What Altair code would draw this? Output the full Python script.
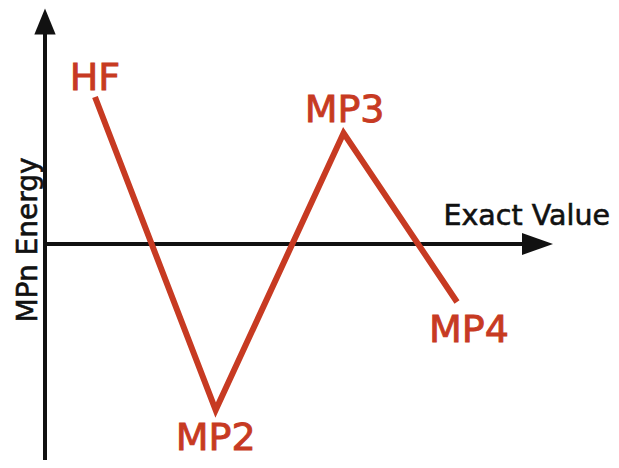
import altair as alt
import pandas as pd

# Data
methods = ["HF", "MP2", "MP3", "MP4"]
step = [1.0, 2.0, 3.06, 4.0]          # position along the (unlabelled) x direction
energy = [14.7, -16.6, 11.1, -5.8]    # MPn energy relative to the exact value (arb. units)

df = pd.DataFrame({"method": methods, "step": step, "energy": energy})

RED = "#c73a22"
BLACK = "#111111"
FONT = "DejaVu Sans"
W, H = 603, 452

xs = alt.Scale(domain=[0.279, 5.2762], nice=False, zero=False)
ys = alt.Scale(domain=[-21.6, 23.6], nice=False, zero=False)

X = alt.X("step:Q", scale=xs, axis=None)
Y = alt.Y("energy:Q", scale=ys, axis=None)

base = alt.Chart(df)

line = base.mark_line(color=RED, strokeWidth=6, strokeJoin="miter",
                      strokeCap="butt", strokeMiterLimit=20).encode(x=X, y=Y)

def label(name, dx, dy):
    return base.transform_filter(alt.datum.method == name).mark_text(
        font=FONT, fontSize=38, color=RED, stroke=RED, strokeWidth=0.9,
        align="center", baseline="alphabetic", dx=dx, dy=dy).encode(
        x=X, y=Y, text="method:N")

labels = (label("HF", 0, -7) + label("MP2", 0, 40) +
          label("MP3", 1, -11) + label("MP4", 12, 40))

one = alt.Chart(pd.DataFrame({"a": [0]}))

vrule = one.mark_rule(color=BLACK, strokeWidth=4).encode(
    x=alt.value(37), y=alt.value(22), y2=alt.value(H))
hrule = one.mark_rule(color=BLACK, strokeWidth=4).encode(
    x=alt.value(37), x2=alt.value(516), y=alt.value(236))

up_head = one.mark_point(shape="M-0.82,1 L0,-1 L0.82,1 Z", size=26 * 26,
                         filled=True, fill=BLACK, strokeWidth=0, opacity=1).encode(
    x=alt.value(37), y=alt.value(13.5))
right_head = one.mark_point(shape="M-1,-0.71 L1,0 L-1,0.71 Z", size=31 * 31,
                            filled=True, fill=BLACK, strokeWidth=0, opacity=1).encode(
    x=alt.value(529.5), y=alt.value(236))

xtitle = one.mark_text(text="Exact Value", font=FONT, fontSize=28.5, color=BLACK,
                       stroke=BLACK, strokeWidth=0.6,
                       align="right", baseline="alphabetic").encode(
    x=alt.value(W - 1), y=alt.value(217))
ytitle = one.mark_text(text="MPn Energy", font=FONT, fontSize=28, color=BLACK,
                       stroke=BLACK, strokeWidth=0.6,
                       align="center", baseline="alphabetic", angle=270).encode(
    x=alt.value(29), y=alt.value(232))

chart = alt.layer(vrule, hrule, up_head, right_head, line, labels, xtitle, ytitle).properties(
    width=W, height=H, padding=0, background="white",
    autosize=alt.AutoSizeParams(type="none")
).configure_view(stroke=None)

chart.save("out.html", embed_options={"renderer": "svg", "actions": False})
